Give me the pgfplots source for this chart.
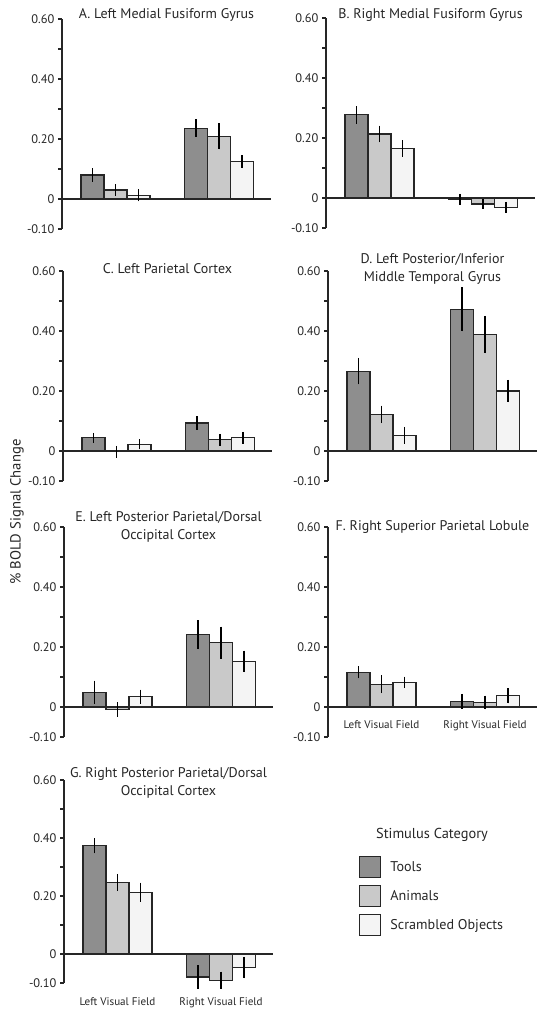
\documentclass[border=0pt]{standalone}
\usepackage{fontspec}
\setmainfont{PT Sans}
\usepackage{pgfplots}
\pgfplotsset{compat=1.18}
\usepackage{pgfplotstable}
\definecolor{tools}{HTML}{8E8E8E}
\definecolor{animals}{HTML}{C9C9C9}
\definecolor{scr}{HTML}{F4F4F4}
\definecolor{edge}{HTML}{262626}

\pgfplotstableread{
x T Te A Ae S Se
1 0.080 0.023 0.030 0.019 0.012 0.020
2 0.236 0.029 0.209 0.044 0.124 0.021
}\dataA
\pgfplotstableread{
x T Te A Ae S Se
1 0.277 0.029 0.213 0.028 0.165 0.028
2 -0.004 0.018 -0.020 0.016 -0.031 0.018
}\dataB
\pgfplotstableread{
x T Te A Ae S Se
1 0.044 0.016 -0.003 0.020 0.022 0.017
2 0.093 0.023 0.037 0.020 0.044 0.020
}\dataC
\pgfplotstableread{
x T Te A Ae S Se
1 0.266 0.044 0.122 0.029 0.052 0.028
2 0.472 0.073 0.388 0.062 0.200 0.037
}\dataD
\pgfplotstableread{
x T Te A Ae S Se
1 0.049 0.039 -0.008 0.024 0.034 0.024
2 0.241 0.048 0.214 0.054 0.152 0.036
}\dataE
\pgfplotstableread{
x T Te A Ae S Se
1 0.115 0.020 0.076 0.030 0.082 0.019
2 0.019 0.025 0.015 0.023 0.037 0.025
}\dataF
\pgfplotstableread{
x T Te A Ae S Se
1 0.373 0.026 0.247 0.029 0.213 0.033
2 -0.079 0.041 -0.091 0.030 -0.047 0.037
}\dataG

\pgfplotsset{
 panel/.style={
  scale only axis, width=156.75pt, height=157.5pt,
  xmin=0.483, xmax=2.502, ymin=-0.1, ymax=0.6,
  axis x line=middle, axis y line=left,
  axis line style={-, draw=edge, line width=0.9pt},
  hide obscured x ticks=false, hide obscured y ticks=false,
  ytick={-0.1,0,0.2,0.4,0.6}, yticklabels={-0.10,0,0.20,0.40,0.60},
  minor ytick={0.1,0.3,0.5},
  tick align=outside, major tick length=3pt, minor tick length=3pt,
  y tick style={draw=edge, line width=0.8pt},
  xtick=\empty,
  x tick style={draw=none},
  ybar, bar width=0.222,
  yticklabel style={font=\fontsize{9.3}{10}\selectfont, text=black!85, inner xsep=2.5pt},
  xticklabel style={font=\fontsize{8.3}{10}\selectfont, text=black!85},
  title style={font=\fontsize{10.5}{13.5}\selectfont, text=black!85, align=center, at={(0.5,1)}, anchor=center},
  clip=false,
 },
 tbar/.style={draw=edge, line width=0.9pt, forget plot,
  error bars/y dir=both, error bars/y explicit, error bars/error mark=none,
  error bars/error bar style={black, line width=1pt}},
}
\newcommand{\threebars}[1]{%
 \addplot[tbar, fill=tools, bar shift=-0.222] table[x=x,y=T,y error=Te]{#1};
 \addplot[tbar, fill=animals, bar shift=0] table[x=x,y=A,y error=Ae]{#1};
 \addplot[tbar, fill=scr, bar shift=0.222] table[x=x,y=S,y error=Se]{#1};
}

\begin{document}
\begin{tikzpicture}
\useasboundingbox (0,0) rectangle (409.5pt,762.75pt);

\begin{axis}[panel, at={(46.5pt,591pt)}, anchor=south west,
 title={A. Left Medial Fusiform Gyrus}, title style={yshift=-3pt}]
\threebars{\dataA}
\end{axis}

\begin{axis}[panel, at={(244.5pt,591.75pt)}, anchor=south west,
 title={B. Right Medial Fusiform Gyrus}, title style={yshift=-3.75pt}]
\threebars{\dataB}
\end{axis}

\begin{axis}[panel, at={(47.25pt,402pt)}, anchor=south west,
 title={C. Left Parietal Cortex}, title style={yshift=-4.5pt}]
\threebars{\dataC}
\end{axis}

\begin{axis}[panel, at={(246pt,402pt)}, anchor=south west,
 title={D. Left Posterior/Inferior\\Middle Temporal Gyrus}, title style={yshift=-4.5pt}]
\threebars{\dataD}
\end{axis}

\begin{axis}[panel, at={(48pt,210pt)}, anchor=south west,
 title={E. Left Posterior Parietal/Dorsal\\Occipital Cortex}, title style={yshift=-6pt}]
\threebars{\dataE}
\end{axis}

\begin{axis}[panel, at={(246pt,210pt)}, anchor=south west,
 title={F. Right Superior Parietal Lobule}, title style={yshift=-6pt},
 xtick={1,2}, xticklabels={Left Visual Field,Right Visual Field},
 xticklabel style={yshift=-3.5pt}]
\threebars{\dataF}
\end{axis}

\begin{axis}[panel, at={(48pt,25.5pt)}, anchor=south west, height=152.25pt,
 title={G. Right Posterior Parietal/Dorsal\\Occipital Cortex}, title style={yshift=-8.25pt},
 xtick={1,2}, xticklabels={Left Visual Field,Right Visual Field},
 xticklabel style={yshift=-26pt},
 legend image code/.code={\draw[#1] (0pt,-7.875pt) rectangle (15.75pt,7.875pt);},
 legend style={at={(1.4115,0.6256)}, anchor=north west, draw=none, fill=none,
   inner sep=0pt, row sep=5pt, column sep=6.75pt, nodes={inner sep=0pt},
   font=\fontsize{10.6}{12}\selectfont, text=black!85},
 legend cell align=left]
\threebars{\dataG}
\addlegendimage{draw=edge, line width=0.9pt, fill=tools}
\addlegendentry{Tools}
\addlegendimage{draw=edge, line width=0.9pt, fill=animals}
\addlegendentry{Animals}
\addlegendimage{draw=edge, line width=0.9pt, fill=scr}
\addlegendentry{Scrambled Objects}
\end{axis}

\node[font=\fontsize{10.8}{12}\selectfont, text=black!85] at (324pt,136.5pt) {Stimulus Category};
\node[font=\fontsize{11}{12}\selectfont, text=black!85, rotate=90] at (12.75pt,378.75pt) {\% BOLD Signal Change};
\end{tikzpicture}
\end{document}
